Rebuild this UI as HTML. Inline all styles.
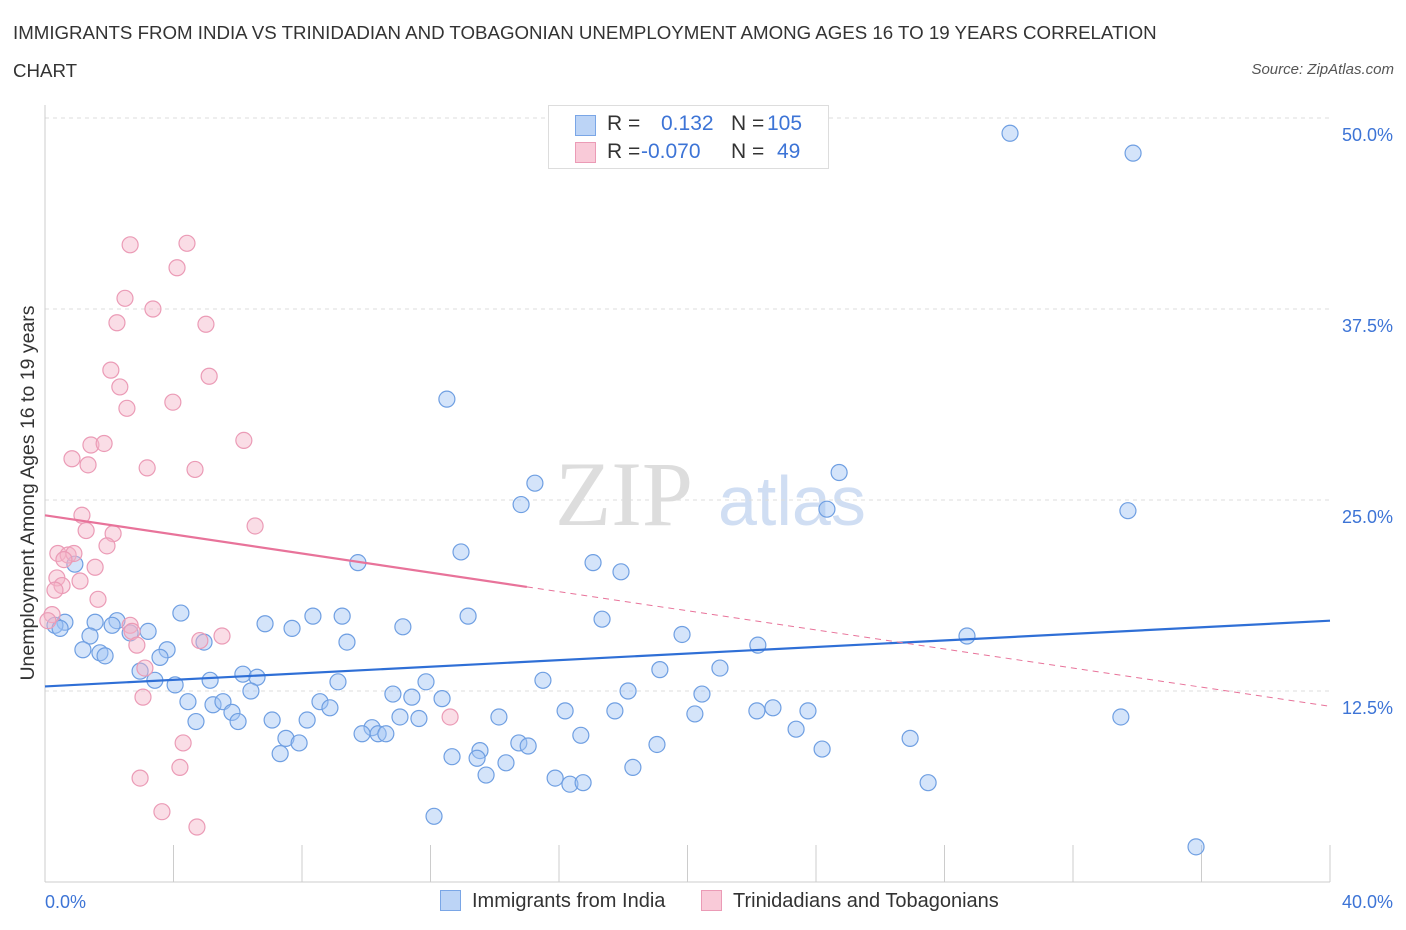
<!DOCTYPE html>
<html><head><meta charset="utf-8"><style>
body{margin:0;background:#fff;font-family:"Liberation Sans",sans-serif;}
#wrap{position:relative;width:1406px;height:930px;overflow:hidden;}
.t{position:absolute;white-space:nowrap;}
</style></head><body>
<div id="wrap">
<div class="t" style="left:13px;top:14px;font-size:18.7px;color:#333;line-height:38px;">IMMIGRANTS FROM INDIA VS TRINIDADIAN AND TOBAGONIAN UNEMPLOYMENT AMONG AGES 16 TO 19 YEARS CORRELATION<br>CHART</div>
<div class="t" style="right:12px;top:61px;font-size:15px;color:#555;font-style:italic;">Source: ZipAtlas.com</div>
<svg id="svg" width="1406" height="930" style="position:absolute;left:0;top:0"></svg>
</div>
<script>
const blueX=[30.04,33.87,12.51,15.25,14.82,24.72,24.34,33.71,12.95,9.74,17.06,17.93,4.23,8.34,9.25,13.17,17.34,11.14,6.85,7.69,2.24,3.21,2.09,2.65,1.56,0.62,0.31,0.47,1.40,0.93,9.40,19.83,22.19,28.70,1.18,1.71,1.87,3.80,3.58,4.95,2.96,3.42,4.05,5.14,6.16,6.60,9.12,11.86,15.50,19.14,21.01,18.15,20.45,10.83,11.42,12.36,6.41,4.45,5.23,5.54,5.82,6.01,8.56,8.87,4.70,7.07,8.16,11.05,11.64,14.13,16.19,17.74,20.23,22.16,22.66,23.75,33.49,10.18,9.87,10.37,10.61,7.50,7.91,7.32,13.54,12.67,13.45,14.35,14.75,15.04,16.68,19.05,23.38,24.19,26.93,13.73,15.88,16.34,16.75,18.30,27.49,12.11,35.83];
const blueY=[49.0,47.7,31.6,26.1,24.7,26.8,24.4,24.3,21.6,20.9,20.9,20.3,17.6,17.4,17.4,17.4,17.2,16.7,16.9,16.6,17.1,16.4,16.8,16.3,17.0,17.0,16.8,16.6,16.1,20.8,15.7,16.2,15.5,16.1,15.2,15.0,14.8,15.2,14.7,15.7,13.8,13.2,12.9,13.2,13.6,13.4,13.1,13.1,13.2,13.9,14.0,12.5,12.3,12.3,12.1,12.0,12.5,11.8,11.6,11.8,11.1,10.5,11.8,11.4,10.5,10.6,10.6,10.8,10.7,10.8,11.2,11.2,11.0,11.2,11.4,11.2,10.8,10.1,9.7,9.7,9.7,9.4,9.1,8.4,8.6,8.2,8.1,7.8,9.1,8.9,9.6,9.0,10.0,8.7,9.4,7.0,6.8,6.4,6.5,7.5,6.5,4.3,2.3];
const pinkX=[2.65,4.42,4.11,2.49,3.36,2.24,5.01,2.05,5.11,2.33,3.98,2.55,6.19,1.43,1.84,0.84,1.34,3.18,4.67,1.15,6.54,1.28,2.12,1.93,0.40,0.72,0.90,0.59,1.56,0.37,1.09,0.53,0.31,1.65,2.65,2.71,4.82,5.51,2.86,3.11,3.05,12.61,4.30,4.20,2.96,3.64,4.73,0.22,0.09];
const pinkY=[41.7,41.8,40.2,38.2,37.5,36.6,36.5,33.5,33.1,32.4,31.4,31.0,28.9,28.6,28.7,27.7,27.3,27.1,27.0,24.0,23.3,23.0,22.8,22.0,21.5,21.4,21.5,21.1,20.6,19.9,19.7,19.4,19.1,18.5,16.8,16.4,15.8,16.1,15.5,14.0,12.1,10.8,9.1,7.5,6.8,4.6,3.6,17.5,17.1];
const blueTrend=[12.8,17.1];
const pinkTrend=[24.0,11.5];
const yTicks=[12.5,25,37.5,50];
const yTickLabels=["12.5%","25.0%","37.5%","50.0%"];
const xTicks=[0,4,8,12,16,20,24,28,32,36,40];

const L=45,R=1330,T=118,B=882;
const xs=v=>L+(v/40)*(R-L);
const ys=v=>B-(v/50)*(B-T);
const svg=document.getElementById('svg');
const NS='http://www.w3.org/2000/svg';
function mk(tag,attrs,parent){const e=document.createElementNS(NS,tag);for(const k in attrs)e.setAttribute(k,attrs[k]);(parent||svg).appendChild(e);return e;}

let w=mk('text',{x:555,y:525,'font-family':'Liberation Serif,serif','font-size':92,fill:'#ddd'});w.textContent='ZIP';


let w2=mk('text',{x:718,y:525,'font-family':'Liberation Sans,sans-serif','font-size':70,fill:'#d0def3'});w2.textContent='atlas';



yTicks.forEach((v,i)=>{
 const g=mk('line',{x1:L,x2:R,y1:ys(v),y2:ys(v),stroke:'#ddd','stroke-dasharray':'4,4'});
 
 
 const t=mk('text',{x:1393,y:ys(v)+23,'text-anchor':'end','font-size':18,fill:'#3d74d6','font-family':'Liberation Sans,sans-serif'});
 t.textContent=yTickLabels[i];
 
 
});
let ax=mk('line',{x1:L,x2:R,y1:B,y2:B,stroke:'#ccc'});


let ay=mk('line',{x1:L,x2:L,y1:105,y2:B,stroke:'#ccc'});


xTicks.forEach(v=>{
 const t=mk('line',{x1:xs(v),x2:xs(v),y1:B-37,y2:B,stroke:'#ccc'});
 
 
});
let xl0=mk('text',{x:45,y:908,'font-size':18,fill:'#3d74d6','font-family':'Liberation Sans,sans-serif'});xl0.textContent='0.0%';


let xl1=mk('text',{x:1393,y:908,'text-anchor':'end','font-size':18,fill:'#3d74d6','font-family':'Liberation Sans,sans-serif'});xl1.textContent='40.0%';


let yt=mk('text',{x:0,y:0,transform:'translate(34,493) rotate(-90)','text-anchor':'middle','font-size':19.5,fill:'#333','font-family':'Liberation Sans,sans-serif'});yt.textContent='Unemployment Among Ages 16 to 19 years';



blueX.forEach((x,i)=>{
 const c=mk('circle',{cx:xs(x),cy:ys(blueY[i]),r:8,fill:'rgba(160,195,245,0.45)',stroke:'#6f9fe2','stroke-width':1.2});
 
 
});
pinkX.forEach((x,i)=>{
 const c=mk('circle',{cx:xs(x),cy:ys(pinkY[i]),r:8,fill:'rgba(245,180,200,0.45)',stroke:'#eb9bb6','stroke-width':1.2});
 
 
});
let bl=mk('line',{x1:xs(0),y1:ys(blueTrend[0]),x2:xs(40),y2:ys(blueTrend[1]),stroke:'#2f6fd6','stroke-width':2.2});


const pAt=x=>pinkTrend[0]+(pinkTrend[1]-pinkTrend[0])*x/40;
let pl=mk('line',{x1:xs(0),y1:ys(pAt(0)),x2:xs(15),y2:ys(pAt(15)),stroke:'#e8739a','stroke-width':2.2});


let pd=mk('line',{x1:xs(15),y1:ys(pAt(15)),x2:xs(40),y2:ys(pAt(40)),stroke:'#e8739a','stroke-width':1,'stroke-dasharray':'6,5'});


</script>
<div class="t" style="left:548px;top:105px;width:279px;height:62px;border:1px solid #ddd;background:#fff;font-size:21px;color:#333;">
 <div style="position:absolute;left:26px;top:9px;width:19px;height:19px;background:#bcd4f6;border:1px solid #7aa6e6;"></div>
 <div style="position:absolute;left:58px;top:6px;">R =</div>
 <div style="position:absolute;left:112px;top:6px;color:#3d74d6;">0.132</div>
 <div style="position:absolute;left:182px;top:6px;">N =</div>
 <div style="position:absolute;left:218px;top:6px;color:#3d74d6;">105</div>
 <div style="position:absolute;left:26px;top:36px;width:19px;height:19px;background:#f9cad8;border:1px solid #eb9bb6;"></div>
 <div style="position:absolute;left:58px;top:34px;">R =</div>
 <div style="position:absolute;left:92px;top:34px;color:#3d74d6;">-0.070</div>
 <div style="position:absolute;left:182px;top:34px;">N =</div>
 <div style="position:absolute;left:228px;top:34px;color:#3d74d6;">49</div>
</div>
<div class="t" style="left:440px;top:890px;font-size:20px;color:#333;">
 <span style="display:inline-block;width:19px;height:19px;background:#bcd4f6;border:1px solid #7aa6e6;vertical-align:-4px;margin-right:11px;"></span>Immigrants from India</div>
<div class="t" style="left:701px;top:890px;font-size:20px;color:#333;">
 <span style="display:inline-block;width:19px;height:19px;background:#f9cad8;border:1px solid #eb9bb6;vertical-align:-4px;margin-right:11px;"></span>Trinidadians and Tobagonians</div>
</body></html>
